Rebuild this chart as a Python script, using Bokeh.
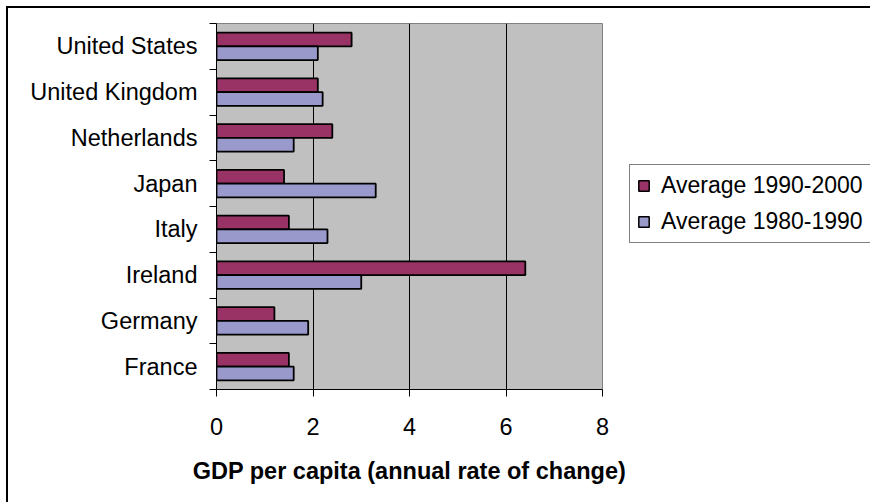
import numpy as np
from bokeh.plotting import figure
from bokeh.layouts import row
from bokeh.models import FixedTicker, Legend, LegendItem, Range1d
from bokeh.embed import file_html
from bokeh.resources import INLINE

countries = ["France", "Germany", "Ireland", "Italy", "Japan",
             "Netherlands", "United Kingdom", "United States"]
avg_1990_2000 = [1.5, 1.2, 6.4, 1.5, 1.4, 2.4, 2.1, 2.8]
avg_1980_1990 = [1.6, 1.9, 3.0, 2.3, 3.3, 1.6, 2.2, 2.1]
series_names = ["Average 1990-2000", "Average 1980-1990"]
series_colors = ["#993366", "#9999CC"]
x_ticks = [0, 2, 4, 6, 8]
x_title = "GDP per capita (annual rate of change)"

FONT = "Liberation Sans"
FS = "23.5px"
BORDER = "2px solid black"

n = len(countries)
idx = np.arange(n)

p = figure(width=623, height=496, output_backend="svg", toolbar_location=None,
           x_range=Range1d(0, 8), y_range=Range1d(0, n),
           min_border_left=208, min_border_right=29,
           min_border_top=15, min_border_bottom=115)
p.styles = {"border-top": BORDER, "border-left": BORDER}

p.background_fill_color = "#C0C0C0"
p.border_fill_color = "white"
p.outline_line_color = "#808080"
p.outline_line_width = 1

p.hbar(y=idx + 0.65, left=0, right=avg_1990_2000, height=0.3,
       fill_color=series_colors[0], line_color="black", line_width=1.8)
p.hbar(y=idx + 0.35, left=0, right=avg_1980_1990, height=0.3,
       fill_color=series_colors[1], line_color="black", line_width=1.8)

# grid
p.ygrid.visible = False
p.xgrid.ticker = FixedTicker(ticks=x_ticks[1:-1])
p.xgrid.grid_line_color = "black"
p.xgrid.grid_line_width = 1

# x axis
xa = p.xaxis[0]
xa.ticker = FixedTicker(ticks=x_ticks)
xa.major_tick_in = 0
xa.major_tick_out = 7
xa.minor_tick_out = 0
xa.minor_tick_in = 0
xa.axis_line_color = "black"
xa.major_label_text_font = FONT
xa.major_label_text_font_size = FS
xa.major_label_text_color = "black"
xa.major_label_standoff = 21
xa.axis_label = x_title
xa.axis_label_text_font = FONT
xa.axis_label_text_font_size = FS
xa.axis_label_text_font_style = "bold"
xa.axis_label_text_color = "black"
xa.axis_label_standoff = 20

# y axis: labels at centres, ticks at boundaries
ya = p.yaxis[0]
ya.ticker = FixedTicker(ticks=list(idx + 0.5), minor_ticks=list(range(n + 1)))
ya.major_label_overrides = {float(i + 0.5): c for i, c in enumerate(countries)}
ya.major_tick_out = 0
ya.major_tick_in = 0
ya.minor_tick_out = 7
ya.minor_tick_in = 0
ya.minor_tick_line_color = "black"
ya.axis_line_color = "black"
ya.major_label_text_font = FONT
ya.major_label_text_font_size = FS
ya.major_label_text_color = "black"
ya.major_label_standoff = 12

# legend panel
q = figure(width=241, height=496, output_backend="svg", toolbar_location=None,
           x_range=Range1d(0, 1), y_range=Range1d(0, 1),
           x_axis_location=None, y_axis_location=None,
           min_border_left=0, min_border_right=0,
           min_border_top=0, min_border_bottom=0)
q.styles = {"border-top": BORDER}
q.grid.visible = False
q.outline_line_color = None
q.background_fill_color = "white"
q.border_fill_color = "white"

items = []
for name, col in zip(series_names, series_colors):
    # legend proxy: no visible bar (NaN), only its swatch in the legend
    rr = q.hbar(y=[np.nan], left=[np.nan], right=[np.nan], height=0.3,
                fill_color=col, line_color="black", line_width=1.5)
    items.append(LegendItem(label=name, renderers=[rr]))

legend = Legend(items=items, location=(0, 146))
legend.label_text_font = FONT
legend.label_text_font_size = "23px"
legend.label_text_color = "black"
legend.glyph_width = 13
legend.glyph_height = 13
legend.label_standoff = 11
legend.label_width = 202
legend.padding = 7
legend.spacing = 9
legend.margin = 0
legend.border_line_color = "black"
legend.border_line_width = 1
legend.background_fill_color = "white"
legend.background_fill_alpha = 1
q.add_layout(legend)

layout = row(p, q, spacing=0, styles={"margin-left": "6px", "margin-top": "6px"})
open("out.html", "w").write(file_html(layout, INLINE))
